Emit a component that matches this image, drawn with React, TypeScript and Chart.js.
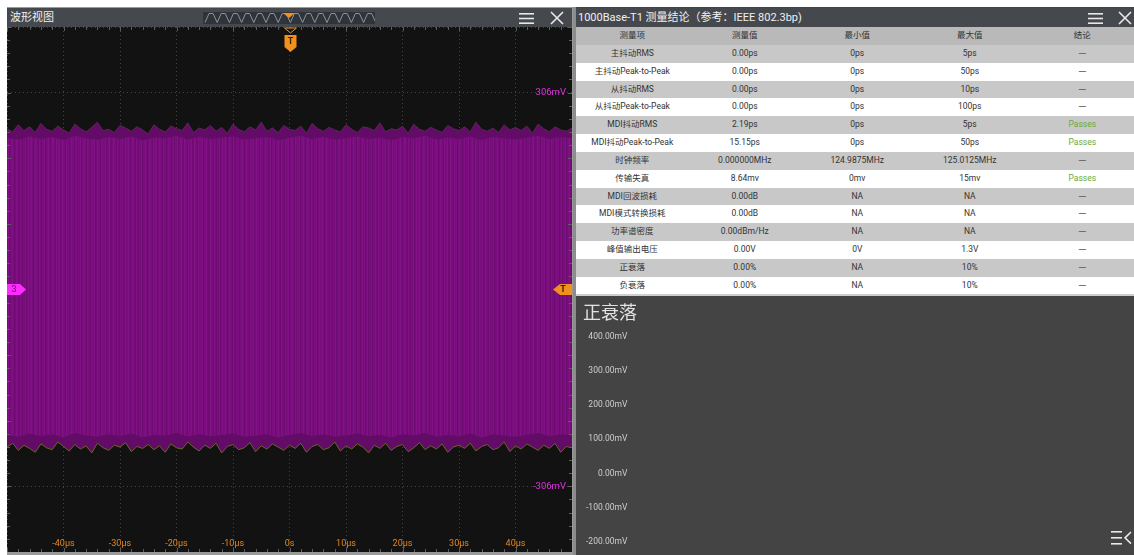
import React, { useEffect, useRef } from "react";
import { Chart, registerables } from "chart.js";
Chart.register(...registerables);

// ---------- waveform (left) ----------
const timeTicks = [-40, -30, -20, -10, 0, 10, 20, 30, 40];
const timeLabels = ["-40μs", "-30μs", "-20μs", "-10μs", "0s", "10μs", "20μs", "30μs", "40μs"];
// outer (peak) envelope, sampled every 1 μs from -50 μs to 50 μs (mV)
const outerUpper = [
  250, 245, 256, 247, 253, 244, 258, 249, 246, 254, 248, 243, 257, 250, 245, 252, 260, 247, 249, 244, 255, 251, 246, 253, 248,
  242, 256, 249, 245, 254, 250, 247, 259, 244, 251, 248, 255, 246, 252, 243, 257, 249, 245, 253, 248, 260, 246, 251, 244, 255,
  249, 247, 254, 243, 258, 250, 246, 252, 248, 245, 256, 249, 244, 253, 251, 247, 259, 245, 250, 248, 254, 243, 257, 249, 246,
  252, 248, 244, 255, 250, 247, 253, 245, 260, 249, 246, 251, 244, 256, 248, 252, 247, 254, 243, 257, 250, 245, 253, 248, 246,
  251,
];
const outerLower = [
  -245, -239, -250, -242, -247, -253, -240, -246, -249, -237, -244, -251, -241, -248, -243, -254, -239, -246, -250, -242, -245, -238, -252, -244, -247,
  -241, -249, -243, -253, -240, -246, -248, -237, -245, -251, -242, -247, -239, -254, -244, -241, -249, -246, -238, -252, -243, -248, -240, -245, -250,
  -242, -247, -239, -253, -244, -241, -249, -246, -237, -251, -243, -248, -240, -245, -254, -242, -247, -239, -250, -244, -241, -252, -246, -238, -249,
  -243, -248, -240, -253, -245, -242, -247, -239, -251, -244, -241, -249, -246, -237, -252, -243, -248, -240, -245, -250, -242, -247, -239, -253, -244,
  -246,
];
// dense (core) envelope, sampled every 2 μs (mV)
const coreUpper = [
  236, 233, 238, 234, 237, 232, 239, 235, 233, 237, 234, 238, 232, 236, 235, 239, 233, 237, 234, 236, 238, 233, 235, 237, 232,
  236, 239, 234, 237, 233, 235, 238, 234, 236, 232, 237, 235, 239, 233, 236, 234, 238, 232, 237, 235, 233, 236, 239, 234, 237,
  235,
];
const coreLower = [
  -226, -229, -224, -228, -225, -230, -223, -227, -229, -225, -228, -224, -230, -226, -227, -223, -229, -225, -228, -226, -224, -229, -227, -225, -230,
  -226, -223, -228, -225, -229, -227, -224, -228, -226, -230, -225, -227, -223, -229, -226, -228, -224, -230, -225, -227, -229, -226, -223, -228, -225,
  -227,
];
const cursorLevels = [306, -306];
const cursorLabels = ["306mV", "-306mV"];

// ---------- measurement table (right) ----------
const tableHeader = ["测量项", "测量值", "最小值", "最大值", "结论"];
const measureNames = [
  "主抖动RMS", "主抖动Peak-to-Peak", "从抖动RMS", "从抖动Peak-to-Peak", "MDI抖动RMS", "MDI抖动Peak-to-Peak",
  "时钟频率", "传输失真", "MDI回波损耗", "MDI模式转换损耗", "功率谱密度", "峰值输出电压", "正衰落", "负衰落",
];
const measureValues = [
  "0.00ps", "0.00ps", "0.00ps", "0.00ps", "2.19ps", "15.15ps", "0.000000MHz", "8.64mv", "0.00dB", "0.00dB",
  "0.00dBm/Hz", "0.00V", "0.00%", "0.00%",
];
const minValues = ["0ps", "0ps", "0ps", "0ps", "0ps", "0ps", "124.9875MHz", "0mv", "NA", "NA", "NA", "0V", "NA", "NA"];
const maxValues = ["5ps", "50ps", "10ps", "100ps", "5ps", "50ps", "125.0125MHz", "15mv", "NA", "NA", "NA", "1.3V", "10%", "10%"];
const verdicts = ["—", "—", "—", "—", "Passes", "Passes", "—", "Passes", "—", "—", "—", "—", "—", "—"];

// ---------- 正衰落 chart ----------
const fallTitle = "正衰落";
const fallMin = -200;
const fallMax = 400;
const fallStep = 100;

const FONT = "Roboto, 'Noto Sans CJK SC', sans-serif";
const stripeShades = "0120310201302102301201031020130210230120310201302103120130210320103201230120310213021031201302103";
const stripeColors = ["#770d7b", "#821186", "#6d0b71", "#7c0f80"];

function makePattern(): CanvasPattern | string {
  const c = document.createElement("canvas");
  c.width = stripeShades.length;
  c.height = 4;
  const g = c.getContext("2d");
  if (!g) return "#770d7b";
  for (let i = 0; i < stripeShades.length; i++) {
    g.fillStyle = stripeColors[Number(stripeShades[i])];
    g.fillRect(i, 0, 1, 4);
  }
  return g.createPattern(c, "repeat") || "#770d7b";
}

const scopeOverlay = {
  id: "scopeOverlay",
  afterDraw(chart: any) {
    const { ctx, chartArea: a, scales } = chart;
    const x = scales.x;
    const y = scales.y;
    ctx.save();
    ctx.strokeStyle = "#5e5e5e";
    ctx.lineWidth = 1;
    for (let i = 0; i <= 50; i++) {
      const t = -50 + i * 2;
      const px = Math.round(x.getPixelForValue(t)) + 0.5;
      const len = i % 5 === 0 ? 4 : 3;
      ctx.beginPath();
      ctx.moveTo(px, a.top);
      ctx.lineTo(px, a.top + len);
      ctx.moveTo(px, a.bottom);
      ctx.lineTo(px, a.bottom - len);
      ctx.stroke();
    }
    for (let i = 0; i <= 40; i++) {
      const v = -408 + i * 20.4;
      const py = Math.round(y.getPixelForValue(v)) + 0.5;
      const len = i % 5 === 0 ? 4 : 3;
      ctx.beginPath();
      ctx.moveTo(a.left, py);
      ctx.lineTo(a.left + len, py);
      ctx.moveTo(a.right, py);
      ctx.lineTo(a.right - len, py);
      ctx.stroke();
    }
    // time labels
    ctx.font = `9px ${FONT}`;
    ctx.textAlign = "center";
    ctx.textBaseline = "middle";
    ctx.fillStyle = "#e8861c";
    timeTicks.forEach((t, i) => ctx.fillText(timeLabels[i], x.getPixelForValue(t), a.bottom - 8));
    // cursor labels
    ctx.font = `9.5px ${FONT}`;
    ctx.textAlign = "right";
    ctx.fillStyle = "#e030e0";
    cursorLevels.forEach((v, i) => ctx.fillText(cursorLabels[i], a.right - 6, y.getPixelForValue(v)));
    // trigger position marker (top)
    const x0 = Math.round(x.getPixelForValue(0)) + 0.5;
    ctx.fillStyle = "#1a1a1a";
    ctx.strokeStyle = "#f0901e";
    ctx.beginPath();
    ctx.moveTo(x0 - 6, a.top + 1);
    ctx.lineTo(x0 + 6, a.top + 1);
    ctx.lineTo(x0, a.top + 6);
    ctx.closePath();
    ctx.fill();
    ctx.stroke();
    ctx.fillStyle = "#f0901e";
    ctx.beginPath();
    ctx.moveTo(x0 - 6, a.top + 8);
    ctx.lineTo(x0 + 6, a.top + 8);
    ctx.lineTo(x0 + 6, a.top + 20);
    ctx.lineTo(x0, a.top + 25);
    ctx.lineTo(x0 - 6, a.top + 20);
    ctx.closePath();
    ctx.fill();
    ctx.font = `bold 9px ${FONT}`;
    ctx.textAlign = "center";
    ctx.fillStyle = "#3a1e00";
    ctx.fillText("T", x0, a.top + 15);
    // trigger level marker (right)
    const y0 = y.getPixelForValue(0);
    ctx.fillStyle = "#f0901e";
    ctx.beginPath();
    ctx.moveTo(a.right, y0 - 5.5);
    ctx.lineTo(a.right - 12, y0 - 5.5);
    ctx.lineTo(a.right - 19, y0);
    ctx.lineTo(a.right - 12, y0 + 5.5);
    ctx.lineTo(a.right, y0 + 5.5);
    ctx.closePath();
    ctx.fill();
    ctx.fillStyle = "#3a1e00";
    ctx.fillText("T", a.right - 9, y0 + 0.5);
    // channel 3 offset marker (left)
    ctx.fillStyle = "#ff2cff";
    ctx.beginPath();
    ctx.moveTo(a.left, y0 - 5.5);
    ctx.lineTo(a.left + 13, y0 - 5.5);
    ctx.lineTo(a.left + 19, y0);
    ctx.lineTo(a.left + 13, y0 + 5.5);
    ctx.lineTo(a.left, y0 + 5.5);
    ctx.closePath();
    ctx.fill();
    ctx.fillStyle = "#70007a";
    ctx.font = `9px ${FONT}`;
    ctx.fillText("3", a.left + 7, y0 + 0.5);
    ctx.restore();
  },
};

const MenuIcon = ({ left }: { left: number }) => (
  <svg style={{ position: "absolute", left, top: 13, width: 15, height: 11 }} viewBox="0 0 15 11">
    <rect x="0" y="0" width="15" height="1.6" fill="#e8e8e8" />
    <rect x="0" y="4.7" width="15" height="1.6" fill="#e8e8e8" />
    <rect x="0" y="9.4" width="15" height="1.6" fill="#e8e8e8" />
  </svg>
);
const CloseIcon = ({ left }: { left: number }) => (
  <svg style={{ position: "absolute", left, top: 11, width: 14, height: 14 }} viewBox="0 0 14 14">
    <path d="M1 1 L13 13 M13 1 L1 13" stroke="#e8e8e8" strokeWidth="1.6" />
  </svg>
);

export default function App() {
  const leftRef = useRef<HTMLCanvasElement>(null);
  const rightRef = useRef<HTMLCanvasElement>(null);

  useEffect(() => {
    document.body.style.margin = "0";
    const charts: Chart[] = [];
    if (leftRef.current) {
      const pattern = makePattern();
      const fine = (arr: number[]) => arr.map((v, i) => ({ x: -50 + i, y: v }));
      const coarse = (arr: number[]) => arr.map((v, i) => ({ x: -50 + i * 2, y: v }));
      charts.push(
        new Chart(leftRef.current, {
          type: "line",
          data: {
            datasets: [
              {
                label: "core+",
                data: coarse(coreUpper),
                borderColor: "rgba(0,0,0,0)",
                borderWidth: 0,
                pointRadius: 0,
                fill: false,
                order: 1,
              },
              {
                label: "CH3",
                data: coarse(coreLower),
                borderColor: "rgba(0,0,0,0)",
                borderWidth: 0,
                pointRadius: 0,
                backgroundColor: pattern as any,
                fill: "-1",
                order: 1,
              },
              {
                label: "peak+",
                data: fine(outerUpper),
                borderColor: "#5a2754",
                borderWidth: 1,
                pointRadius: 0,
                fill: false,
                order: 2,
              },
              {
                label: "peak-",
                data: fine(outerLower),
                borderColor: "#6a6524",
                borderWidth: 1,
                pointRadius: 0,
                backgroundColor: "#620c68",
                fill: "-1",
                order: 2,
              },
            ],
          },
          options: {
            responsive: false,
            animation: false,
            events: [],
            layout: { padding: 0 },
            plugins: { legend: { display: false }, tooltip: { enabled: false }, title: { display: false } },
            scales: {
              x: {
                type: "linear",
                min: -50,
                max: 50,
                ticks: { stepSize: 10, display: false },
                grid: { color: "#444444", drawTicks: false, lineWidth: 1 },
                border: { display: false, dash: [1, 3] },
              },
              y: {
                type: "linear",
                min: -408,
                max: 408,
                ticks: { stepSize: 102, display: false },
                grid: { color: "#444444", drawTicks: false, lineWidth: 1 },
                border: { display: false, dash: [1, 3] },
              },
            },
          },
          plugins: [scopeOverlay],
        })
      );
    }
    if (rightRef.current) {
      charts.push(
        new Chart(rightRef.current, {
          type: "line",
          data: { labels: [], datasets: [] },
          options: {
            responsive: false,
            animation: false,
            events: [],
            layout: { padding: { left: 7, bottom: 13, right: 10 } },
            plugins: {
              legend: { display: false },
              tooltip: { enabled: false },
              title: {
                display: true,
                text: fallTitle,
                align: "start",
                color: "#e2e2e2",
                font: { size: 18, family: FONT, weight: "normal" },
                padding: { top: 8, bottom: 11 },
              },
            },
            scales: {
              x: { display: false },
              y: {
                min: fallMin,
                max: fallMax,
                ticks: {
                  stepSize: fallStep,
                  color: "#cfcfcf",
                  font: { size: 8.5, family: FONT },
                  padding: 3,
                  callback: (v: any) => `${Number(v).toFixed(2)}mV`,
                },
                grid: { display: false },
                border: { display: false },
              },
            },
          },
        })
      );
    }
    return () => charts.forEach((c) => c.destroy());
  }, []);

  const colW = 112.5;
  const rowH = 17.85;

  return (
    <div style={{ position: "relative", width: 1134, height: 555, background: "#ffffff", overflow: "hidden", fontFamily: FONT }}>
      {/* left panel */}
      <div style={{ position: "absolute", left: 7, top: 7, width: 566, height: 548, background: "#9a9a9a" }} />
      <div style={{ position: "absolute", left: 7, top: 8, width: 565, height: 19, background: "#45484d" }}>
        <div style={{ position: "absolute", left: 3, top: 2, fontSize: 11, color: "#f0f0f0", lineHeight: "15px" }}>波形视图</div>
      </div>
      <svg style={{ position: "absolute", left: 203, top: 12, width: 172, height: 12 }} viewBox="0 0 172 12">
        <rect x="0" y="0" width="172" height="12" fill="#2e3439" />
        <polyline
          fill="none"
          stroke="#8d949c"
          strokeWidth="1"
          points={Array.from({ length: 14 }, (_, k) => {
            const b = 2 + k * 12.2;
            return `${b},10.5 ${b + 4},1.5 ${b + 8},1.5 ${b + 12.2},10.5`;
          }).join(" ")}
        />
        <path d="M80 1 L92 1 L86 6 Z" fill="#f0901e" />
      </svg>
      <MenuIcon left={519} />
      <CloseIcon left={550} />
      <canvas
        ref={leftRef}
        width={565}
        height={525}
        style={{ position: "absolute", left: 7, top: 27, width: 565, height: 525, background: "#121212" }}
      />

      {/* right panel */}
      <div style={{ position: "absolute", left: 573, top: 7, width: 3, height: 548, background: "#8c8c8c" }} />
      <div style={{ position: "absolute", left: 576, top: 7, width: 558, height: 548, background: "#444444" }} />
      <div style={{ position: "absolute", left: 576, top: 8, width: 558, height: 19, background: "#45484d" }}>
        <div style={{ position: "absolute", left: 2, top: 2, fontSize: 11, color: "#f0f0f0", lineHeight: "15px", whiteSpace: "nowrap" }}>
          1000Base-T1 测量结论（参考：IEEE 802.3bp)
        </div>
      </div>
      <MenuIcon left={1088} />
      <CloseIcon left={1118} />
      <div style={{ position: "absolute", left: 576, top: 27, width: 558, height: rowH * 15, overflow: "hidden" }}>
        <div style={{ display: "flex", height: rowH, background: "#b9b9b9" }}>
          {tableHeader.map((h, i) => (
            <div key={i} style={{ width: colW, flex: "none", textAlign: "center", fontSize: 8.5, lineHeight: `${rowH}px`, color: "#333" }}>
              {h}
            </div>
          ))}
        </div>
        {measureNames.map((name, r) => {
          const cells = [name, measureValues[r], minValues[r], maxValues[r], verdicts[r]];
          return (
            <div key={r} style={{ display: "flex", height: rowH, background: r % 2 === 0 ? "#c8c8c8" : "#ffffff" }}>
              {cells.map((c, i) => {
                const isDash = i === 4 && c === "—";
                return (
                  <div
                    key={i}
                    style={{
                      width: colW,
                      flex: "none",
                      textAlign: "center",
                      fontSize: isDash ? 11 : 8.5,
                      lineHeight: `${rowH}px`,
                      whiteSpace: "nowrap",
                      color: i === 4 ? (c === "Passes" ? "#6aaa3a" : "#666") : "#333",
                    }}
                  >
                    {c}
                  </div>
                );
              })}
            </div>
          );
        })}
      </div>
      <div style={{ position: "absolute", left: 576, top: 294, width: 558, height: 2, background: "#cfcfcf" }} />
      <canvas ref={rightRef} width={558} height={259} style={{ position: "absolute", left: 576, top: 296, width: 558, height: 259 }} />
      <svg style={{ position: "absolute", left: 1111, top: 530, width: 22, height: 16 }} viewBox="0 0 22 16">
        <rect x="0" y="1" width="11" height="1.6" fill="#e8e8e8" />
        <rect x="0" y="7" width="11" height="1.6" fill="#e8e8e8" />
        <rect x="0" y="13" width="11" height="1.6" fill="#e8e8e8" />
        <path d="M20 2 L14 7.8 L20 13.6" stroke="#e8e8e8" strokeWidth="1.6" fill="none" />
      </svg>
    </div>
  );
}
